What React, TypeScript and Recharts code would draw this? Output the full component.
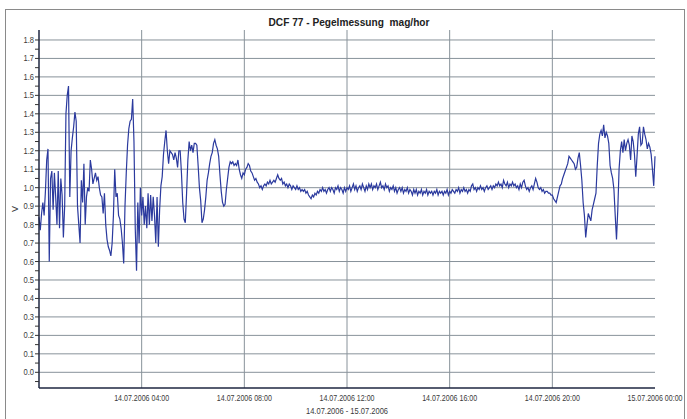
import React from 'react';
import { LineChart, Line, XAxis, YAxis, ReferenceLine, Label } from 'recharts';

// Voltage samples every 3 minutes (0.05 h), 14.07.2006 00:00 -> 15.07.2006 00:00
const block00to04 = [
  0.84,0.77,0.86,0.92,0.85,0.98,1.15,1.21,0.60,1.05,
  1.09,0.88,1.08,0.95,0.80,1.09,0.78,1.05,0.96,0.73,
  0.90,1.40,1.50,1.55,0.95,1.20,1.27,1.33,1.41,1.36,
  0.90,0.80,0.70,1.04,0.92,1.13,0.80,0.95,1.00,0.98,
  1.15,1.10,1.02,1.05,1.08,1.04,1.06,1.00,0.96,0.95,
  0.86,0.97,0.80,0.72,0.68,0.66,0.63,0.70,0.85,1.10,
  0.95,0.97,0.85,0.83,0.78,0.70,0.59,0.90,1.08,1.23,
  1.32,1.36,1.37,1.48,1.25,0.78,0.55,0.92,0.70,1.00,
];
const block04to08 = [
  0.85,0.95,0.80,0.90,0.78,0.97,0.80,0.96,0.82,0.95,
  0.85,0.70,0.95,0.68,0.88,1.01,1.06,1.18,1.25,1.31,
  1.20,1.13,1.20,1.19,1.18,1.15,1.19,1.16,1.11,1.20,
  1.20,1.08,0.92,0.83,0.81,0.97,1.15,1.25,1.20,1.23,
  1.19,1.24,1.24,1.23,1.12,1.00,0.93,0.81,0.83,0.88,
  0.95,1.04,1.08,1.13,1.17,1.19,1.24,1.26,1.23,1.21,
  1.17,1.07,0.98,0.92,0.90,0.91,0.99,1.05,1.11,1.14,
  1.13,1.14,1.12,1.13,1.12,1.15,1.10,1.07,1.05,1.08,
];
const block08to12 = [
  1.07,1.10,1.11,1.13,1.12,1.09,1.08,1.06,1.04,1.05,
  1.03,1.02,1.00,1.01,0.99,1.01,1.02,1.01,1.03,1.02,
  1.04,1.02,1.03,1.04,1.03,1.05,1.07,1.05,1.04,1.05,
  1.02,1.03,1.01,1.02,1.00,1.02,1.01,0.99,1.01,1.00,
  0.99,1.01,0.99,1.00,0.98,0.99,0.98,0.99,0.97,0.98,
  0.96,0.95,0.94,0.96,0.95,0.97,0.96,0.98,0.97,0.99,
  0.98,1.00,0.98,0.99,0.97,0.99,1.00,0.98,1.00,0.99,
  0.97,1.00,0.99,1.01,0.98,1.00,0.99,0.97,1.00,0.98,
];
const block12to16 = [
  1.00,0.99,1.01,0.98,1.00,1.02,0.99,1.01,0.98,1.00,
  1.01,0.99,1.02,1.00,0.98,1.01,0.99,1.02,1.00,1.02,
  0.99,1.01,1.00,1.02,0.99,1.01,1.03,1.00,1.01,0.99,
  1.02,1.00,1.01,0.98,1.00,0.99,1.01,0.98,1.00,0.97,
  0.99,1.00,0.98,1.00,0.97,0.99,0.98,1.00,0.97,0.99,
  0.98,0.96,0.99,0.97,0.99,0.96,0.98,0.97,0.99,0.96,
  0.98,0.97,0.99,0.96,0.98,0.97,0.98,0.96,0.98,0.97,
  0.99,0.96,0.98,0.97,0.98,0.96,0.98,0.97,0.99,0.96,
];
const block16to20 = [
  0.98,0.97,0.99,0.98,0.97,0.99,0.98,1.00,0.97,0.99,
  0.98,1.00,0.98,0.99,0.97,0.99,0.98,1.01,1.02,0.99,
  1.00,0.98,1.00,0.99,1.01,0.99,1.00,0.98,1.00,1.01,
  0.99,1.00,1.01,0.99,1.01,1.00,1.02,1.01,1.03,1.01,
  1.02,1.00,1.04,1.02,1.01,1.03,1.00,1.02,1.01,1.03,
  1.01,1.02,1.00,1.01,0.99,1.02,1.00,1.03,1.04,1.01,
  0.99,1.00,0.98,1.00,1.01,0.99,1.02,1.05,1.03,1.00,
  0.99,1.00,0.98,0.99,0.97,0.98,0.98,0.97,0.97,0.96,
];
const block20to24 = [
  0.96,0.94,0.93,0.92,0.95,0.98,1.01,1.02,1.05,1.07,
  1.09,1.11,1.13,1.17,1.16,1.15,1.14,1.13,1.10,1.11,
  1.16,1.19,1.12,1.04,0.92,0.85,0.73,0.80,0.86,0.84,
  0.82,0.88,0.91,0.94,0.97,1.12,1.24,1.29,1.31,1.28,
  1.34,1.27,1.30,1.28,1.24,1.12,1.08,1.05,0.99,0.85,
  0.72,0.88,1.10,1.20,1.25,1.19,1.26,1.20,1.24,1.26,
  1.23,1.15,1.28,1.25,1.18,1.06,1.17,1.29,1.33,1.23,
  1.24,1.33,1.29,1.26,1.21,1.24,1.22,1.18,1.10,1.01,
  1.17,
];

const samplesPerHour = 20;

const xTickHours = [0, 4, 8, 12, 16, 20, 24];
const xTickLabels = ['', '14.07.2006 04:00', '14.07.2006 08:00', '14.07.2006 12:00', '14.07.2006 16:00', '14.07.2006 20:00', '15.07.2006 00:00'];
const xGridHours = [4, 8, 12, 16, 20];

const yMajorTicks = [0, 0.1, 0.2, 0.3, 0.4, 0.5, 0.6, 0.7, 0.8, 0.9, 1.0, 1.1, 1.2, 1.3, 1.4, 1.5, 1.6, 1.7, 1.8];
const yMinorTicks = [-0.05, 0.05, 0.15, 0.25, 0.35, 0.45, 0.55, 0.65, 0.75, 0.85, 0.95, 1.05, 1.15, 1.25, 1.35, 1.45, 1.55, 1.65, 1.75];
const yDomain = [-0.085, 1.854];

const title = 'DCF 77 - Pegelmessung  mag/hor';
const xAxisTitle = '14.07.2006 - 15.07.2006';
const yAxisTitle = 'V';

const voltage = [...block00to04, ...block04to08, ...block08to12, ...block12to16, ...block16to20, ...block20to24];
const data = voltage.map((v, i) => ({ h: i / samplesPerHour, v }));
const yTicks = [...yMajorTicks, ...yMinorTicks].sort((a, b) => a - b);

const FONT = '"Liberation Sans", Arial, sans-serif';
const GRID = '#88929a';
const FRAME = '#1e2640';
const TEXT = '#3a3a3a';

const YTick = (props: any) => {
  const { x, y, payload } = props;
  const v = payload.value as number;
  const major = Math.abs(Math.round(v * 10) - v * 10) < 1e-6;
  if (!major) return <g />;
  return (
    <text x={x} y={y} dy={3} textAnchor="end" fontSize={9} fill={TEXT} fontFamily={FONT}
      textLength={10.5} lengthAdjust="spacingAndGlyphs">
      {v.toFixed(1)}
    </text>
  );
};

const XTick = (props: any) => {
  const { x, y, payload } = props;
  const idx = xTickHours.indexOf(payload.value);
  const label = idx >= 0 ? xTickLabels[idx] : '';
  if (!label) return <g />;
  return (
    <text x={x} y={y} dy={7} textAnchor="middle" fontSize={9} fill={TEXT} fontFamily={FONT}
      textLength={55} lengthAdjust="spacingAndGlyphs">
      {label}
    </text>
  );
};

const XTitle = (props: any) => {
  const vb = props.viewBox || {};
  return (
    <text x={vb.x + vb.width / 2} y={vb.y + vb.height - 5} textAnchor="middle" fontSize={9} fill={TEXT}
      fontFamily={FONT} textLength={82} lengthAdjust="spacingAndGlyphs">
      {xAxisTitle}
    </text>
  );
};

const YTitle = (props: any) => {
  const vb = props.viewBox || {};
  const cx = vb.x + 15;
  const cy = vb.y + vb.height / 2;
  return (
    <text x={cx} y={cy} dy={3} textAnchor="middle" fontSize={9} fill={TEXT} fontFamily={FONT}
      transform={`rotate(-90 ${cx} ${cy})`}>
      {yAxisTitle}
    </text>
  );
};

export default function App() {
  return (
    <div style={{ position: 'absolute', left: 0, top: 0, width: 687, height: 419, background: '#fff', overflow: 'hidden' }}>
      <div style={{ position: 'absolute', left: 5, top: 9, width: 678, height: 430, border: '1px solid #8a8a8a' }} />
      <svg style={{ position: 'absolute', left: 0, top: 0 }} width={687} height={30}>
        <text x={349} y={26} textAnchor="middle" fontSize={11} fontWeight="bold" fill="#222" fontFamily={FONT}
          textLength={161} lengthAdjust="spacingAndGlyphs" style={{ whiteSpace: 'pre' }}>
          {title}
        </text>
      </svg>
      <div style={{ position: 'absolute', left: 0, top: 0 }}>
        <LineChart width={687} height={419} data={data} margin={{ top: 30, right: 32, bottom: 0, left: 0 }}>
          <XAxis
            dataKey="h"
            type="number"
            domain={[0, 24]}
            ticks={xTickHours}
            interval={0}
            height={31}
            tickLine={false}
            tickSize={4}
            tick={<XTick />}
            axisLine={{ stroke: FRAME, strokeWidth: 1.5 }}
          >
            <Label content={<XTitle />} />
          </XAxis>
          <XAxis
            xAxisId="top"
            orientation="top"
            dataKey="h"
            type="number"
            domain={[0, 24]}
            height={0}
            tick={false}
            tickLine={false}
            axisLine={{ stroke: FRAME, strokeWidth: 1.5 }}
          />
          <YAxis
            type="number"
            domain={yDomain}
            ticks={yTicks}
            interval={0}
            width={39}
            tickSize={4}
            tickMargin={1}
            tickLine={{ stroke: '#333' }}
            tick={<YTick />}
            axisLine={{ stroke: FRAME, strokeWidth: 1.5 }}
            allowDataOverflow
          >
            <Label content={<YTitle />} />
          </YAxis>
          <YAxis
            yAxisId="right"
            orientation="right"
            type="number"
            domain={yDomain}
            width={0}
            tick={false}
            tickLine={false}
            axisLine={{ stroke: FRAME, strokeWidth: 1.5 }}
            allowDataOverflow
          />
          {yMajorTicks.map((t) => (
            <ReferenceLine key={'gy' + t} y={t} stroke={GRID} strokeWidth={1} />
          ))}
          {xGridHours.map((t) => (
            <ReferenceLine key={'gx' + t} x={t} stroke={GRID} strokeWidth={1} />
          ))}
          <Line
            type="linear"
            dataKey="v"
            stroke="#2b3a9e"
            strokeWidth={1.2}
            dot={false}
            isAnimationActive={false}
          />
        </LineChart>
      </div>
    </div>
  );
}
